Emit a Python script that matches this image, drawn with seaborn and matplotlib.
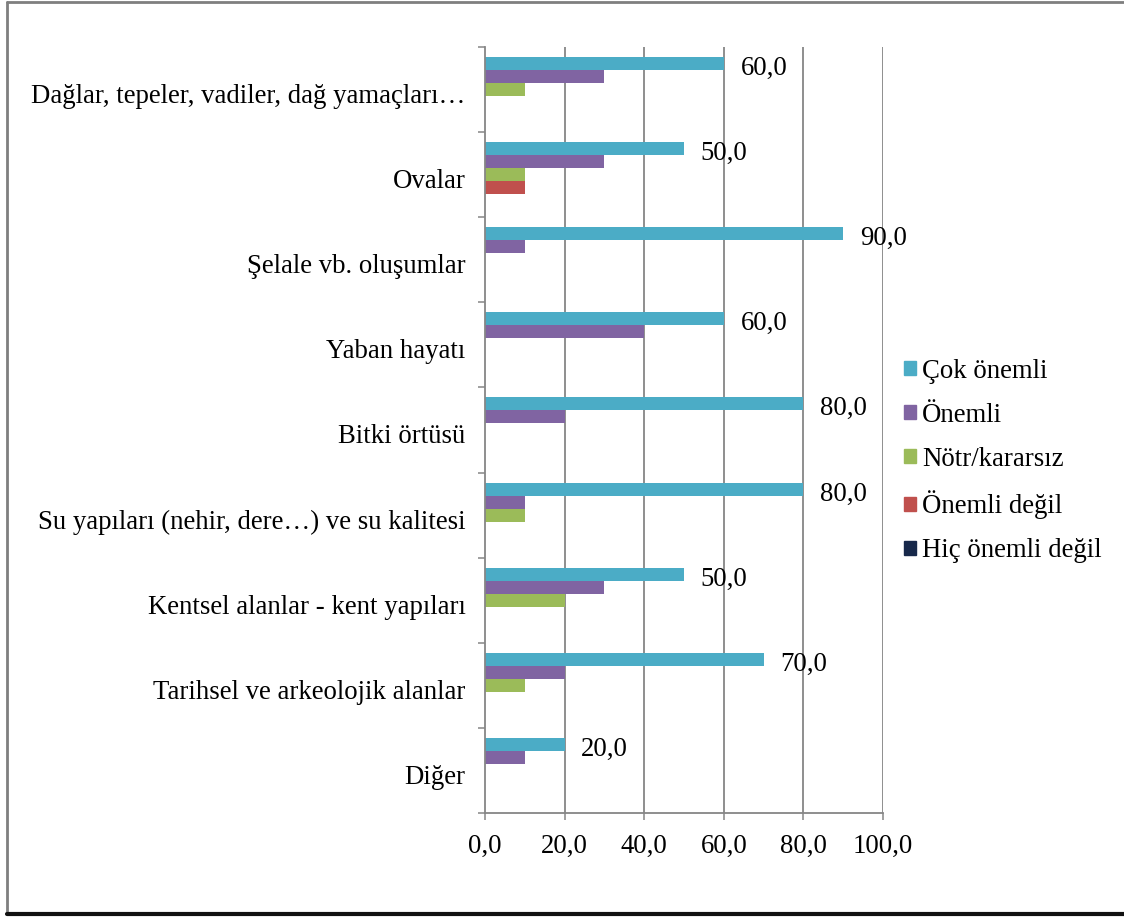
import matplotlib
matplotlib.use("Agg")
import matplotlib.pyplot as plt
from matplotlib.lines import Line2D
from matplotlib.ticker import FixedLocator
from matplotlib.transforms import ScaledTranslation
import seaborn as sns
import pandas as pd

categories = [
    "Dağlar, tepeler, vadiler, dağ yamaçları…",
    "Ovalar",
    "Şelale vb. oluşumlar",
    "Yaban hayatı",
    "Bitki örtüsü",
    "Su yapıları (nehir, dere…) ve su kalitesi",
    "Kentsel alanlar - kent yapıları",
    "Tarihsel ve arkeolojik alanlar",
    "Diğer",
]
series = ["Çok önemli", "Önemli", "Nötr/kararsız", "Önemli değil", "Hiç önemli değil"]
cok_onemli = [60, 50, 90, 60, 80, 80, 50, 70, 20]
onemli = [30, 30, 10, 40, 20, 10, 30, 20, 10]
notr = [10, 10, 0, 0, 0, 10, 20, 10, 0]
onemli_degil = [0, 10, 0, 0, 0, 0, 0, 0, 0]
hic_onemli_degil = [0, 0, 0, 0, 0, 0, 0, 0, 0]
x_ticks = [0, 20, 40, 60, 80, 100]
colors = ["#4BACC6", "#8064A2", "#9BBB59", "#C0504D", "#17284A"]

values = [cok_onemli, onemli, notr, onemli_degil, hic_onemli_degil]
df = pd.DataFrame(
    [(c, s, v) for s, vals in zip(series, values) for c, v in zip(categories, vals)],
    columns=["kategori", "seri", "deger"],
)

FS = 19.3
sns.set_theme(style="white")
plt.rcParams["font.family"] = ["Liberation Serif", "DejaVu Serif"]
plt.rcParams["font.size"] = FS
plt.rcParams["text.color"] = "black"

fig = plt.figure(figsize=(11.24, 9.18), dpi=100)
ax = fig.add_axes([485 / 1124, 1 - 813 / 918, (883 - 485) / 1124, (813 - 47) / 918])

sns.barplot(
    data=df, y="kategori", x="deger", hue="seri", order=categories,
    hue_order=series, palette=colors, orient="h", width=0.765,
    ax=ax, saturation=1, legend=True, edgecolor="none",
)

ax.set_xlim(0, 100)
ax.set_ylim(len(categories) - 0.5, -0.5)
ax.set_xticks(x_ticks)
ax.set_xticklabels([f"{t:.1f}".replace(".", ",") for t in x_ticks], fontsize=FS)
ax.set_xlabel("")
ax.set_ylabel("")
ax.tick_params(axis="y", which="major", length=0, pad=14, labelsize=FS, labelcolor="black")
ax.yaxis.set_minor_locator(FixedLocator([i - 0.5 for i in range(len(categories) + 1)]))
ax.tick_params(axis="y", which="minor", length=5, width=1.1, color="#868686", left=True)
ax.tick_params(axis="x", which="major", length=5, width=1.1, color="#868686", bottom=True,
               pad=10, labelcolor="black")

# category labels sit slightly below the band centre
shift = ScaledTranslation(0, -4 / 100, fig.dpi_scale_trans)
for lab in ax.get_yticklabels():
    lab.set_transform(lab.get_transform() + shift)

ax.grid(False)
for t in x_ticks[1:]:
    ax.axvline(t, color="#868686", lw=1.3, zorder=0)
for side in ["top", "right"]:
    ax.spines[side].set_visible(False)
for side in ["left", "bottom"]:
    ax.spines[side].set_color("#868686")
    ax.spines[side].set_linewidth(1.3)

# value labels on the "Çok önemli" bars
cont = ax.containers[0]
anns = ax.bar_label(cont, labels=[f"{v:.1f}".replace(".", ",") for v in cok_onemli],
                    padding=12, fontsize=FS, color="black")
for a in anns:
    a.xyann = (12, -3.5)

ax.get_legend().remove()
handles = [plt.Rectangle((0, 0), 1, 1, color=c) for c in colors]
fig.legend(handles, series, loc="center left",
           bbox_to_anchor=(904 / 1124, 1 - 461 / 918), frameon=False,
           fontsize=FS, handlelength=0.43, handleheight=0.43, labelcolor="black",
           handletextpad=0.25, labelspacing=0.71, borderpad=0, borderaxespad=0)

# outer frame
fig.add_artist(Line2D([7 / 1124, 7 / 1124], [1 - 2 / 918, 1 - 914 / 918],
                      transform=fig.transFigure, color="#7f7f7f", lw=2))
fig.add_artist(Line2D([7 / 1124, 1], [1 - 2 / 918, 1 - 2 / 918],
                      transform=fig.transFigure, color="#7f7f7f", lw=2))
fig.add_artist(Line2D([7 / 1124, 1], [1 - 914 / 918, 1 - 914 / 918],
                      transform=fig.transFigure, color="#111111", lw=3))

fig.savefig("out.png", dpi=100)
